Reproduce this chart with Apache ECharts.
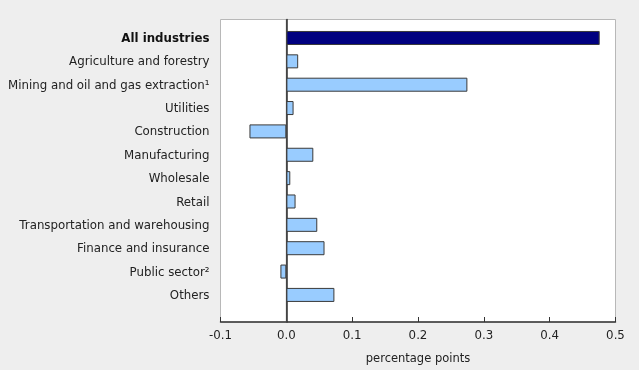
<!DOCTYPE html>
<html>
<head>
<meta charset="utf-8">
<script src="https://cdn.jsdelivr.net/npm/echarts@6/dist/echarts.min.js"></script>
<style>
html,body{margin:0;padding:0;background:#eeeeee;}
#c{width:639px;height:370px;}
</style>
</head>
<body>
<div id="c"></div>
<script>
var categories = ["All industries","Agriculture and forestry","Mining and oil and gas extraction\u00b9","Utilities","Construction","Manufacturing","Wholesale","Retail","Transportation and warehousing","Finance and insurance","Public sector\u00b2","Others"];
var values = [0.476,0.018,0.275,0.011,-0.056,0.041,0.006,0.014,0.047,0.058,-0.009,0.073];
var xTicks = {min:-0.1, max:0.5, interval:0.1};
var xName = "percentage points";

var FONT = "DejaVu Sans";
var chart = echarts.init(document.getElementById('c'), null, {renderer:'canvas'});
var data = values.map(function(v,i){
  return i===0 ? {value:v, itemStyle:{color:'#000080'}} : v;
});
chart.setOption({
  backgroundColor:'#eeeeee',
  animation:false,
  textStyle:{fontFamily:FONT},
  grid:[
    {left:220.5, right:23.5, top:19.5, bottom:47.5, show:true, backgroundColor:'#ffffff', borderColor:'#b8b8b8', borderWidth:1, containLabel:false},
    {left:220.5, right:23.5, top:26.3, height:280.3, containLabel:false}
  ],
  xAxis:[
    {gridIndex:0, type:'value', min:xTicks.min, max:xTicks.max, interval:xTicks.interval,
     axisLine:{show:true, onZero:false, lineStyle:{color:'#333', width:1.5}},
     axisTick:{show:true, inside:true, length:5, lineStyle:{color:'#333'}},
     splitLine:{show:false},
     axisLabel:{color:'#222', fontSize:11.8, fontFamily:FONT, margin:8, formatter:function(v){return v.toFixed(1);}},
     name:xName, nameLocation:'middle', nameGap:31,
     nameTextStyle:{color:'#222', fontSize:11.5, fontFamily:FONT}},
    {gridIndex:1, type:'value', min:xTicks.min, max:xTicks.max, interval:xTicks.interval, show:false}
  ],
  yAxis:[
    {gridIndex:0, type:'value', min:0, max:1, axisLabel:{show:false}, axisTick:{show:false}, splitLine:{show:false},
     axisLine:{show:true, lineStyle:{color:'#333', width:1.5}}},
    {gridIndex:1, type:'category', data:categories, inverse:true,
     axisLine:{show:false}, axisTick:{show:false}, splitLine:{show:false},
     axisLabel:{margin:11, fontSize:11.8, fontFamily:FONT, color:'#222', padding:[2,0,0,0],
       formatter:function(v,i){ return i===0 ? '{b|'+v+'}' : v; },
       rich:{b:{fontWeight:'bold', fontSize:11.8, fontFamily:FONT, color:'#111'}}}}
  ],
  series:[
    {type:'scatter', xAxisIndex:0, yAxisIndex:0, data:[], silent:true,
     markLine:{silent:true, symbol:'none', label:{show:false},
       lineStyle:{color:'#444', width:1.2, type:'solid'},
       data:[{xAxis:0}]}},
    {type:'bar', xAxisIndex:1, yAxisIndex:1, data:data, barWidth:'60%',
     itemStyle:{color:'#99ccff', borderColor:'#3a3a3a', borderWidth:1}}
  ]
});
</script>
</body>
</html>
